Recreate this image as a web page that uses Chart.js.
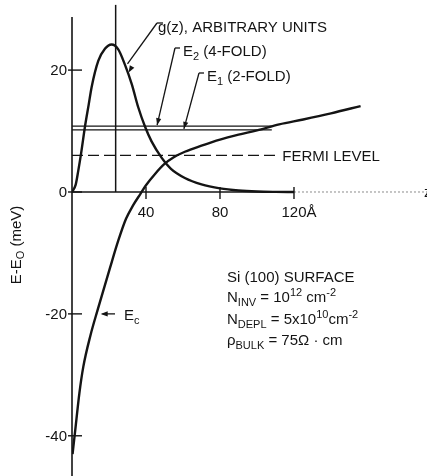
<!DOCTYPE html>
<html>
<head>
<meta charset="utf-8">
<script src="https://cdn.jsdelivr.net/npm/chart.js@4"></script>
<style>
html,body{margin:0;padding:0;background:#fff;}
canvas{display:block;}
</style>
</head>
<body>
<canvas id="grafica" width="427" height="476"></canvas>
<script>
// g(z), arbitrary units (z in Angstrom)
var gZ   = [0, 2, 3.4, 5, 7, 9, 10.6, 14.2, 17.8, 21.4, 25, 28.6, 32.3, 35.8, 39.5, 43, 48.5, 53.5, 61, 70, 80, 90, 100, 110, 120];
var gVal = [0, 1.2, 3.5, 6.5, 10.7, 14.3, 17.2, 21.5, 23.5, 24.2, 23.4, 20.9, 17.7, 13.9, 10.7, 8.3, 5.6, 3.8, 2.3, 1.25, 0.6, 0.25, 0.08, 0.02, 0];
// conduction band edge Ec
var ecZ   = [0.3, 1.6, 4, 6.1, 10, 13.9, 20.5, 25, 29.2, 33, 37, 40, 45, 50, 55, 61, 70, 80, 90, 100, 112, 125, 140, 156];
var ecVal = [-43, -39.5, -33, -28.7, -23.5, -19.3, -12.5, -8, -4.4, -2.2, -0.3, 1.1, 3.0, 4.6, 5.7, 6.6, 7.6, 8.6, 9.4, 10.1, 11.1, 11.9, 12.9, 14.1];
// levels
var nivelE2 = 10.8;
var nivelE1 = 10.2;
var nivelFermi = 6.0;
var finNiveles = 108;
var finFermi = 111;
var zMarca = 23.6;
var ticksX = [40, 80, 120];
var ticksY = [20, 0, -20, -40];

var tinta = '#141414';
var fuente = '"Liberation Sans", Arial, sans-serif';

function puntos(xs, ys){
  var r = [];
  for (var i = 0; i < xs.length; i++) r.push({x: xs[i], y: ys[i]});
  return r;
}

function linea(ctx, x1, y1, x2, y2){
  ctx.beginPath(); ctx.moveTo(x1, y1); ctx.lineTo(x2, y2); ctx.stroke();
}

function punta(ctx, x1, y1, x2, y2){
  // small filled arrow head at (x2,y2), pointing from (x1,y1)
  var a = Math.atan2(y2 - y1, x2 - x1), l = 7, w = 2.6;
  ctx.beginPath();
  ctx.moveTo(x2, y2);
  ctx.lineTo(x2 - l*Math.cos(a) + w*Math.sin(a), y2 - l*Math.sin(a) - w*Math.cos(a));
  ctx.lineTo(x2 - l*Math.cos(a) - w*Math.sin(a), y2 - l*Math.sin(a) + w*Math.cos(a));
  ctx.closePath(); ctx.fill();
}

// parts: [text, kind] kind: 'n' normal, 'b' subscript, 'p' superscript
function texto(ctx, parts, x, y, tam){
  var cx = x;
  parts.forEach(function(p){
    var t = p[1] === 'n' ? tam : Math.round(tam*0.72);
    var dy = p[1] === 'b' ? 4 : (p[1] === 'p' ? -6 : 0);
    ctx.font = t + 'px ' + fuente;
    ctx.fillText(p[0], cx, y + dy);
    cx += ctx.measureText(p[0]).width;
  });
  return cx - x;
}

function ancho(ctx, parts, tam){
  var w = 0;
  parts.forEach(function(p){
    var t = p[1] === 'n' ? tam : Math.round(tam*0.72);
    ctx.font = t + 'px ' + fuente;
    w += ctx.measureText(p[0]).width;
  });
  return w;
}

var dibujo = {
  id: 'dibujo',
  afterDatasetsDraw: function(chart){
    var ctx = chart.ctx, sx = chart.scales.x, sy = chart.scales.y;
    var px = function(v){ return sx.getPixelForValue(v); };
    var py = function(v){ return sy.getPixelForValue(v); };
    ctx.save();
    ctx.strokeStyle = tinta; ctx.fillStyle = tinta;
    ctx.lineCap = 'butt';

    // axes
    ctx.lineWidth = 1.6;
    linea(ctx, px(0), py(28.7), px(0), chart.height);
    linea(ctx, px(0), py(0), px(120), py(0));
    ctx.save();
    ctx.strokeStyle = '#8a8a8a'; ctx.lineWidth = 1; ctx.setLineDash([2, 2]);
    linea(ctx, px(120), py(0), chart.width, py(0));
    ctx.restore();

    // ticks
    ctx.lineWidth = 1.4;
    ctx.font = '15px ' + fuente;
    ctx.textBaseline = 'middle';
    ticksY.forEach(function(v){
      linea(ctx, px(0) - 4, py(v), px(0) + 10, py(v));
      ctx.textAlign = 'right';
      ctx.fillText(String(v).replace('-', '-'), px(0) - 5, py(v) + 1);
    });
    ticksX.forEach(function(v){
      linea(ctx, px(v), py(0) - 5, px(v), py(0) + 7);
      ctx.textAlign = 'center';
      ctx.fillText(String(v), px(v), py(0) + 21);
      if (v === ticksX[ticksX.length - 1]) {
        ctx.textAlign = 'left';
        ctx.fillText('Å', px(v) + ctx.measureText(String(v)).width/2, py(0) + 21);
      }
    });
    ctx.textAlign = 'left';
    ctx.fillText('z', chart.width - 3, py(0) + 1);

    // y title (rotated)
    ctx.save();
    ctx.translate(17, 245);
    ctx.rotate(-Math.PI/2);
    var tit = [['E-E', 'n'], ['O', 'b'], [' (meV)', 'n']];
    ctx.textBaseline = 'middle';
    texto(ctx, tit, -ancho(ctx, tit, 15)/2, 0, 15);
    ctx.restore();

    ctx.textBaseline = 'alphabetic';
    ctx.lineWidth = 1.3;

    // g(z) label and leader
    texto(ctx, [['g(z), ARBITRARY UNITS', 'n']], 158, 32, 15);
    linea(ctx, 163, 23, 157, 23);
    linea(ctx, 157, 23, px(30), py(21));
    punta(ctx, 157, 23, px(30.6), py(19.6));

    // E2 label and leader
    texto(ctx, [['E', 'n'], ['2', 'b'], [' (4-FOLD)', 'n']], 183, 56, 15);
    linea(ctx, 180, 48, 175, 48);
    linea(ctx, 175, 48, px(46), py(nivelE2) - 1);
    punta(ctx, 175, 48, px(46), py(nivelE2) - 1);

    // E1 label and leader
    texto(ctx, [['E', 'n'], ['1', 'b'], [' (2-FOLD)', 'n']], 207, 81, 15);
    linea(ctx, 204, 73, 199, 73);
    linea(ctx, 199, 73, px(60.5), py(nivelE1) - 1);
    punta(ctx, 199, 73, px(60.5), py(nivelE1) - 1);

    // Fermi level label
    texto(ctx, [['FERMI LEVEL', 'n']], px(finFermi) + 5, py(nivelFermi) + 6, 15);

    // Ec arrow
    linea(ctx, 115, py(-20), px(16.5), py(-20));
    punta(ctx, 115, py(-20), px(15.5), py(-20));
    texto(ctx, [['E', 'n'], ['c', 'b']], 124, py(-20) + 6, 15);

    // sample description
    texto(ctx, [['Si (100) SURFACE', 'n']], 227, 282, 15);
    texto(ctx, [['N', 'n'], ['INV', 'b'], [' = 10', 'n'], ['12', 'p'], [' cm', 'n'], ['-2', 'p']], 227, 302, 15);
    texto(ctx, [['N', 'n'], ['DEPL', 'b'], [' = 5x10', 'n'], ['10', 'p'], ['cm', 'n'], ['-2', 'p']], 227, 324, 15);
    texto(ctx, [['ρ', 'n'], ['BULK', 'b'], [' = 75Ω · cm', 'n']], 227, 345, 15);

    ctx.restore();
  }
};

var grafica = new Chart(document.getElementById('grafica'), {
  type: 'line',
  data: {
    datasets: [
      { label: 'g(z)', data: puntos(gZ, gVal), borderColor: tinta, borderWidth: 2.4, cubicInterpolationMode: 'monotone' },
      { label: 'Ec', data: puntos(ecZ, ecVal), borderColor: tinta, borderWidth: 2.4, cubicInterpolationMode: 'monotone' },
      { label: 'E2', data: puntos([0, finNiveles], [nivelE2, nivelE2]), borderColor: tinta, borderWidth: 1.3 },
      { label: 'E1', data: puntos([0, finNiveles], [nivelE1, nivelE1]), borderColor: tinta, borderWidth: 1.3 },
      { label: 'Fermi', data: puntos([0, finFermi], [nivelFermi, nivelFermi]), borderColor: tinta, borderWidth: 1.3, borderDash: [11, 5] },
      { label: 'z marca', data: puntos([zMarca, zMarca], [0, 30.7]), borderColor: tinta, borderWidth: 1.5 }
    ]
  },
  options: {
    responsive: false,
    animation: false,
    devicePixelRatio: 1,
    layout: { padding: { left: 72, right: 0, top: 0, bottom: 0 } },
    elements: { point: { radius: 0 } },
    plugins: { legend: { display: false }, tooltip: { enabled: false } },
    scales: {
      x: { type: 'linear', min: 0, max: 191.9, display: false },
      y: { type: 'linear', min: -46.6, max: 31.5, display: false }
    }
  },
  plugins: [dibujo]
});
</script>
</body>
</html>
